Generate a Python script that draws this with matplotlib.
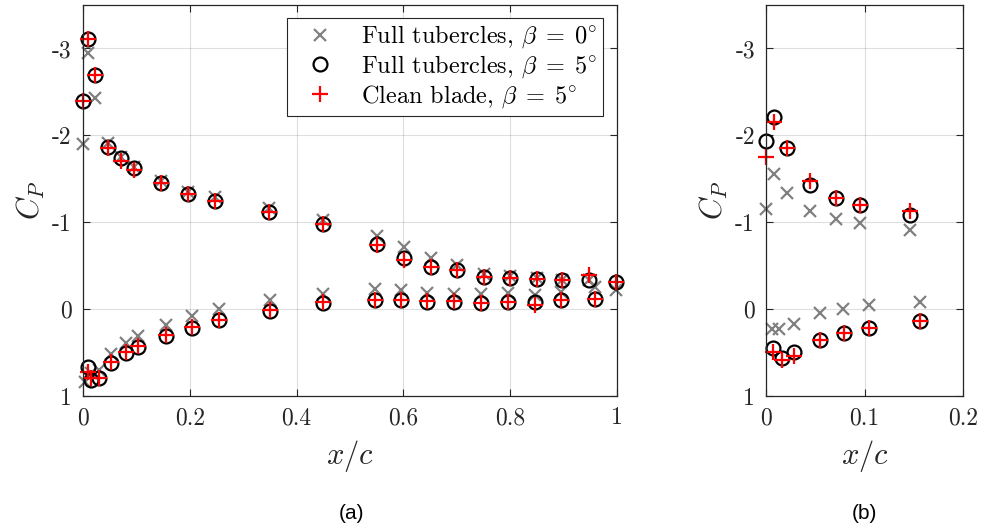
import matplotlib
matplotlib.use('Agg')
import matplotlib.pyplot as plt

plt.rcParams['font.family'] = 'cmr10'
plt.rcParams['mathtext.fontset'] = 'cm'
plt.rcParams['axes.formatter.use_mathtext'] = True

# ---- panel (a): full chord ----
x_up = [0.0, 0.010, 0.022, 0.046, 0.071, 0.095, 0.146, 0.197, 0.247, 0.349,
        0.450, 0.551, 0.601, 0.651, 0.701, 0.751, 0.800, 0.850, 0.898, 0.948, 0.998]
x_lo = [0.009, 0.015, 0.030, 0.053, 0.080, 0.104, 0.155, 0.205, 0.255, 0.351,
        0.450, 0.547, 0.596, 0.645, 0.695, 0.745, 0.796, 0.846, 0.896, 0.958]
x_lo_b0 = [0.004, 0.015, 0.030, 0.053, 0.080, 0.104, 0.155, 0.205, 0.255, 0.351,
           0.450, 0.547, 0.596, 0.645, 0.695, 0.745, 0.796, 0.846, 0.896, 0.958]

cp_up_b0 = [-1.90, -2.95, -2.43, -1.91, -1.75, -1.64, -1.48, -1.35, -1.29, -1.16,
            -1.03, -0.84, -0.71, -0.59, -0.51, -0.40, -0.38, -0.36, -0.34, -0.33, -0.22]
cp_lo_b0 = [0.84, 0.74, 0.70, 0.52, 0.39, 0.31, 0.18, 0.08, 0.00, -0.10,
            -0.18, -0.23, -0.22, -0.19, -0.18, -0.18, -0.19, -0.16, -0.20, -0.25]

cp_up_b5 = [-2.40, -3.11, -2.69, -1.87, -1.74, -1.62, -1.45, -1.32, -1.25, -1.12,
            -0.98, -0.75, -0.59, -0.49, -0.45, -0.37, -0.36, -0.35, -0.34, -0.33, -0.31]
cp_lo_b5 = [0.67, 0.82, 0.79, 0.62, 0.50, 0.43, 0.31, 0.22, 0.13, 0.02,
            -0.07, -0.10, -0.11, -0.085, -0.085, -0.07, -0.085, -0.085, -0.10, -0.12]

cp_up_clean = [-2.40, -3.11, -2.69, -1.85, -1.70, -1.60, -1.45, -1.32, -1.25, -1.12,
               -0.98, -0.74, -0.57, -0.49, -0.45, -0.37, -0.36, -0.35, -0.34, -0.39, -0.31]
cp_lo_clean = [0.72, 0.79, 0.79, 0.61, 0.49, 0.42, 0.30, 0.21, 0.12, 0.01,
               -0.08, -0.10, -0.11, -0.09, -0.09, -0.07, -0.08, -0.05, -0.10, -0.12]

# ---- panel (b): leading-edge region ----
xb_up = [0.0, 0.0085, 0.021, 0.045, 0.071, 0.095, 0.146]
xb_lo = [0.0068, 0.016, 0.028, 0.055, 0.0795, 0.105, 0.156]
xb_lo_b0 = [0.006, 0.0135, 0.028, 0.055, 0.0785, 0.105, 0.156]

cpb_up_b0 = [-1.15, -1.55, -1.34, -1.13, -1.04, -0.99, -0.91]
cpb_lo_b0 = [0.23, 0.23, 0.17, 0.05, 0.00, -0.05, -0.085]
cpb_up_b5 = [-1.93, -2.21, -1.85, -1.43, -1.28, -1.20, -1.08]
cpb_lo_b5 = [0.45, 0.56, 0.49, 0.36, 0.28, 0.22, 0.135]
cpb_up_clean = [-1.75, -2.15, -1.85, -1.47, -1.28, -1.20, -1.13]
cpb_lo_clean = [0.49, 0.58, 0.54, 0.36, 0.28, 0.22, 0.135]

labels = [r'Full tubercles, $\beta\;=\;0^{\circ}$',
          r'Full tubercles, $\beta\;=\;5^{\circ}$',
          r'Clean blade, $\beta\;=\;5^{\circ}$']
yticks = [-3, -2, -1, 0, 1]
ytick_labels = ['-3', '-2', '-1', '0', '1']

GRAY = (0.5, 0.5, 0.5)
AX_COL = (0.15, 0.15, 0.15)


def draw_series(ax, xu0, yu0, xl0, yl0, xu, yu5, xl, yl5, yuc, ylc):
    ax.plot(xu0 + xl0, yu0 + yl0, 'x', color=GRAY, ms=9, mew=1.6, label=labels[0],
            clip_on=False)
    ax.plot(xu + xl, yu5 + yl5, 'o', mfc='none', mec='k', ms=10, mew=1.6, label=labels[1],
            clip_on=False)
    ax.plot(xu + xl, yuc + ylc, '+', color='r', ms=12, mew=1.6, label=labels[2],
            clip_on=False)


def style_axis(ax, xlim, xticks, xtick_labels):
    ax.set_xlim(xlim)
    ax.set_ylim(1, -3.5)
    ax.set_yticks(yticks)
    ax.set_yticklabels(ytick_labels)
    ax.set_xticks(xticks)
    ax.set_xticklabels(xtick_labels)
    ax.grid(True, color=(0.15, 0.15, 0.15), alpha=0.15, linewidth=0.8)
    ax.set_axisbelow(True)
    ax.tick_params(direction='in', top=True, right=True, length=5, width=0.8,
                   colors=AX_COL, labelsize=17, pad=8)
    for s in ax.spines.values():
        s.set_color(AX_COL)
        s.set_linewidth(0.9)
    ax.set_xlabel(r'$x/c$', fontsize=22, color=AX_COL, labelpad=6)
    ax.set_ylabel(r'$C_P$', fontsize=22, color=AX_COL, labelpad=4)


fig = plt.figure(figsize=(9.84, 5.26), dpi=100)
ax1 = fig.add_axes([0.0843, 0.2471, 0.5427, 0.7433])
ax2 = fig.add_axes([0.7785, 0.2471, 0.2002, 0.7433])

draw_series(ax1, x_up, cp_up_b0, x_lo_b0, cp_lo_b0, x_up, cp_up_b5, x_lo, cp_lo_b5,
            cp_up_clean, cp_lo_clean)
style_axis(ax1, (0, 1), [0, 0.2, 0.4, 0.6, 0.8, 1], ['0', '0.2', '0.4', '0.6', '0.8', '1'])

draw_series(ax2, xb_up, cpb_up_b0, xb_lo_b0, cpb_lo_b0, xb_up, cpb_up_b5, xb_lo, cpb_lo_b5,
            cpb_up_clean, cpb_lo_clean)
style_axis(ax2, (0, 0.2), [0, 0.1, 0.2], ['0', '0.1', '0.2'])

leg = ax1.legend(loc='upper right', bbox_to_anchor=(0.974, 0.968), fontsize=17.5,
                 frameon=True, fancybox=False, edgecolor=AX_COL, framealpha=1,
                 handletextpad=0.6, borderpad=0.25, labelspacing=0.12, handlelength=2.2,
                 borderaxespad=0)
leg.get_frame().set_linewidth(0.8)

fig.text(0.357, 0.013, '(a)', fontsize=15, family='Liberation Sans', ha='center')
fig.text(0.879, 0.013, '(b)', fontsize=15, family='Liberation Sans', ha='center')

plt.savefig('out.png', dpi=100)
plt.close()
